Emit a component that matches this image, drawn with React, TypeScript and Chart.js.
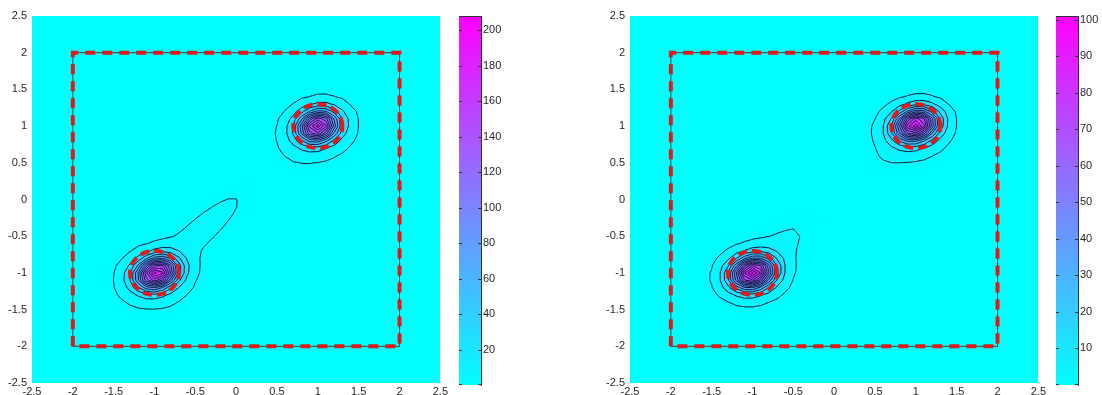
import React, { useEffect, useRef } from "react";
import { Chart, registerables } from "chart.js";
Chart.register(...registerables);

// ---------- shared data ----------
const axisTicks = [-2.5, -2, -1.5, -1, -0.5, 0, 0.5, 1, 1.5, 2, 2.5];
const squareX = [-2, -2, 2, 2, -2];
const squareY = [-2, 2, 2, -2, -2];
const circleX = [1, -1];
const circleY = [1, -1];
const circleR = [0.3, 0.3];
const gridMin = -2.5;
const gridMax = 2.5;
const gridStep = 0.1;

// ---------- left panel (density components) ----------
const leftCompX = [-0.97, -1.0, 1.0, 1.0, -0.45, 0.78];
const leftCompY = [-1.0, -1.08, 1.0, 0.95, -0.45, 0.72];
const leftCompAmp = [190, 10, 178, 10, 6, 3];
const leftCompSx = [0.17, 0.28, 0.16, 0.28, 0.55, 0.18];
const leftCompSy = [0.13, 0.25, 0.13, 0.25, 0.14, 0.18];
const leftCompAngle = [25, 0, 25, 0, 45, 0];
const leftLevels = [3, 15, 30, 45, 60, 75, 90, 105, 120, 135, 150, 165, 180, 195];
const leftColorMax = 208;
const leftColorTicks = [20, 40, 60, 80, 100, 120, 140, 160, 180, 200];

// ---------- right panel ----------
const rightCompX = [-1.0, -1.0, 1.0, 0.97, -0.7, 0.8];
const rightCompY = [-1.0, -1.02, 1.02, 0.95, -0.68, 0.75];
const rightCompAmp = [91, 8, 89, 8, 3, 2];
const rightCompSx = [0.17, 0.27, 0.17, 0.27, 0.4, 0.3];
const rightCompSy = [0.13, 0.24, 0.13, 0.24, 0.15, 0.15];
const rightCompAngle = [20, 0, 20, 0, 45, 45];
const rightLevels = [2, 8, 15, 22, 29, 36, 43, 50, 57, 64, 71, 78, 85, 92, 99];
const rightColorMax = 101;
const rightColorTicks = [10, 20, 30, 40, 50, 60, 70, 80, 90, 100];

const FONT = { family: "'Liberation Sans', Arial, sans-serif", size: 11 };
const TEXT = "#262626";

type Panel = {
  cx: number[]; cy: number[]; amp: number[]; sx: number[]; sy: number[]; ang: number[];
  levels: number[]; colorMax: number; colorTicks: number[];
};

function buildGrid(p: Panel): number[][] {
  const n = Math.round((gridMax - gridMin) / gridStep) + 1;
  const g: number[][] = [];
  for (let j = 0; j < n; j++) {
    const row: number[] = [];
    const y = gridMin + j * gridStep;
    for (let i = 0; i < n; i++) {
      const x = gridMin + i * gridStep;
      let v = 0;
      for (let k = 0; k < p.cx.length; k++) {
        const a = (p.ang[k] * Math.PI) / 180;
        const dx = x - p.cx[k], dy = y - p.cy[k];
        const u = dx * Math.cos(a) + dy * Math.sin(a);
        const w = -dx * Math.sin(a) + dy * Math.cos(a);
        v += p.amp[k] * Math.exp(-(u * u) / (2 * p.sx[k] * p.sx[k]) - (w * w) / (2 * p.sy[k] * p.sy[k]));
      }
      row.push(v);
    }
    g.push(row);
  }
  return g;
}

function coolColor(t: number): [number, number, number] {
  const c = Math.max(0, Math.min(1, t));
  return [Math.round(255 * c), Math.round(255 * (1 - c)), 255];
}

function heatPlugin(p: Panel, grid: number[][]) {
  const n = grid.length;
  return {
    id: "heat",
    beforeDatasetsDraw(chart: any) {
      const { ctx, chartArea: a, scales } = chart;
      const xs = scales.x, ys = scales.y;
      const w = Math.round(a.right - a.left), h = Math.round(a.bottom - a.top);
      const off = document.createElement("canvas");
      off.width = w; off.height = h;
      const octx = off.getContext("2d")!;
      const img = octx.createImageData(w, h);
      for (let py = 0; py < h; py++) {
        const yv = ys.getValueForPixel(a.top + py + 0.5);
        let fj = (yv - gridMin) / gridStep;
        fj = Math.max(0, Math.min(n - 1.0001, fj));
        const j0 = Math.floor(fj), tj = fj - j0;
        for (let px = 0; px < w; px++) {
          const xv = xs.getValueForPixel(a.left + px + 0.5);
          let fi = (xv - gridMin) / gridStep;
          fi = Math.max(0, Math.min(n - 1.0001, fi));
          const i0 = Math.floor(fi), ti = fi - i0;
          const v =
            grid[j0][i0] * (1 - ti) * (1 - tj) +
            grid[j0][i0 + 1] * ti * (1 - tj) +
            grid[j0 + 1][i0] * (1 - ti) * tj +
            grid[j0 + 1][i0 + 1] * ti * tj;
          const [r, g, b] = coolColor(v / p.colorMax);
          const idx = (py * w + px) * 4;
          img.data[idx] = r; img.data[idx + 1] = g; img.data[idx + 2] = b; img.data[idx + 3] = 255;
        }
      }
      octx.putImageData(img, 0, 0);
      ctx.drawImage(off, a.left, a.top);

      // contours (marching squares)
      ctx.save();
      ctx.beginPath();
      ctx.rect(a.left, a.top, a.right - a.left, a.bottom - a.top);
      ctx.clip();
      ctx.strokeStyle = "#0d1a3a";
      ctx.lineWidth = 1;
      for (const L of p.levels) {
        ctx.beginPath();
        for (let j = 0; j < n - 1; j++) {
          for (let i = 0; i < n - 1; i++) {
            const x0 = gridMin + i * gridStep, x1 = x0 + gridStep;
            const y0 = gridMin + j * gridStep, y1 = y0 + gridStep;
            const v0 = grid[j][i], v1 = grid[j][i + 1], v2 = grid[j + 1][i + 1], v3 = grid[j + 1][i];
            const pts: [number, number][] = [];
            const edge = (va: number, vb: number, xa: number, ya: number, xb: number, yb: number) => {
              if ((va >= L) !== (vb >= L)) {
                const t = (L - va) / (vb - va);
                pts.push([xa + (xb - xa) * t, ya + (yb - ya) * t]);
              }
            };
            edge(v0, v1, x0, y0, x1, y0);
            edge(v1, v2, x1, y0, x1, y1);
            edge(v3, v2, x0, y1, x1, y1);
            edge(v0, v3, x0, y0, x0, y1);
            const seg = (pa: [number, number], pb: [number, number]) => {
              ctx.moveTo(xs.getPixelForValue(pa[0]), ys.getPixelForValue(pa[1]));
              ctx.lineTo(xs.getPixelForValue(pb[0]), ys.getPixelForValue(pb[1]));
            };
            if (pts.length === 2) seg(pts[0], pts[1]);
            else if (pts.length === 4) {
              const c = (v0 + v1 + v2 + v3) / 4;
              if ((c >= L) === (v0 >= L)) { seg(pts[0], pts[1]); seg(pts[2], pts[3]); }
              else { seg(pts[0], pts[3]); seg(pts[1], pts[2]); }
            }
          }
        }
        ctx.stroke();
      }
      ctx.restore();
    },
  };
}

function barPlugin(p: Panel) {
  return {
    id: "bar",
    beforeDatasetsDraw(chart: any) {
      const { ctx, chartArea: a, scales } = chart;
      const ys = scales.y;
      const g = ctx.createLinearGradient(0, ys.getPixelForValue(0), 0, ys.getPixelForValue(p.colorMax));
      g.addColorStop(0, "rgb(0,255,255)");
      g.addColorStop(1, "rgb(255,0,255)");
      ctx.fillStyle = g;
      ctx.fillRect(a.left, a.top, a.right - a.left, a.bottom - a.top);
    },
    afterDraw(chart: any) {
      const { ctx, chartArea: a, scales } = chart;
      const ys = scales.y;
      ctx.save();
      ctx.strokeStyle = "#333";
      ctx.lineWidth = 1;
      ctx.beginPath();
      for (const v of p.colorTicks) {
        const py = Math.round(ys.getPixelForValue(v)) + 0.5;
        ctx.moveTo(a.left, py); ctx.lineTo(a.left + 3, py);
        ctx.moveTo(a.right - 3, py); ctx.lineTo(a.right, py);
      }
      ctx.moveTo(a.left, a.top + 0.5); ctx.lineTo(a.right, a.top + 0.5);
      ctx.moveTo(a.left, a.bottom - 0.5); ctx.lineTo(a.left + 3, a.bottom - 0.5);
      ctx.moveTo(a.right - 3, a.bottom - 0.5); ctx.lineTo(a.right, a.bottom - 0.5);
      ctx.stroke();
      ctx.restore();
    },
  };
}

function circlePoints(k: number) {
  const pts: { x: number; y: number }[] = [];
  for (let s = 0; s <= 72; s++) {
    const t = (s / 72) * 2 * Math.PI;
    pts.push({ x: circleX[k] + circleR[k] * Math.cos(t), y: circleY[k] + circleR[k] * Math.sin(t) });
  }
  return pts;
}

function MainPlot({ panel, left, padRight }: { panel: Panel; left: number; padRight: number }) {
  const ref = useRef<HTMLCanvasElement>(null);
  useEffect(() => {
    const grid = buildGrid(panel);
    const sq = squareX.map((x, i) => ({ x, y: squareY[i] }));
    const line = (data: any, color: string, width: number, dash: number[], order: number) => ({
      data, showLine: true, borderColor: color, borderWidth: width, borderDash: dash,
      pointRadius: 0, tension: 0, fill: false, order,
    });
    const chart = new Chart(ref.current!, {
      type: "scatter",
      data: {
        datasets: [
          line(sq, "#3a3a3a", 1, [], 4),
          line(sq, "#e31818", 4, [10, 7], 1),
          line(circlePoints(0), "#e31818", 4, [9, 5], 2),
          line(circlePoints(1), "#e31818", 4, [9, 5], 2),
        ] as any,
      },
      options: {
        animation: false,
        responsive: false,
        devicePixelRatio: 1,
        events: [],
        layout: { padding: { top: 16, right: padRight, left: 0, bottom: 0 } },
        plugins: { legend: { display: false }, tooltip: { enabled: false } },
        scales: {
          x: {
            type: "linear", min: -2.5, max: 2.5,
            afterBuildTicks: (s: any) => { s.ticks = axisTicks.map((v) => ({ value: v })); },
            afterFit: (s: any) => { s.height = 12; },
            ticks: { autoSkip: false, maxRotation: 0, padding: 2, font: FONT, color: TEXT, callback: (v: any) => String(v) },
            grid: { display: false, drawTicks: false },
            border: { display: false },
          },
          y: {
            type: "linear", min: -2.5, max: 2.5,
            afterBuildTicks: (s: any) => { s.ticks = axisTicks.map((v) => ({ value: v })); },
            afterFit: (s: any) => { s.width = 32; },
            ticks: { autoSkip: false, padding: 5, font: FONT, color: TEXT, callback: (v: any) => String(v) },
            grid: { display: false, drawTicks: false },
            border: { display: false },
          },
        },
      } as any,
      plugins: [heatPlugin(panel, grid)],
    });
    return () => chart.destroy();
  }, []);
  return <canvas ref={ref} width={450} height={395} style={{ position: "absolute", left, top: 0, width: 450, height: 395 }} />;
}

function ColorBar({ panel, left, width }: { panel: Panel; left: number; width: number }) {
  const ref = useRef<HTMLCanvasElement>(null);
  useEffect(() => {
    const chart = new Chart(ref.current!, {
      type: "scatter",
      data: { datasets: [] },
      options: {
        animation: false,
        responsive: false,
        devicePixelRatio: 1,
        events: [],
        layout: { padding: { top: 16, bottom: 10, left: 0, right: 0 } },
        plugins: { legend: { display: false }, tooltip: { enabled: false } },
        scales: {
          x: { type: "linear", display: false, min: 0, max: 1 },
          y: {
            type: "linear", position: "right", min: 0, max: panel.colorMax,
            afterBuildTicks: (s: any) => { s.ticks = panel.colorTicks.map((v) => ({ value: v })); },
            afterFit: (s: any) => { s.width = width - 22; },
            ticks: { autoSkip: false, padding: 2, font: FONT, color: TEXT, callback: (v: any) => String(v) },
            grid: { drawOnChartArea: false, drawTicks: false },
            border: { display: true, color: "#333", width: 1 },
          },
        },
      } as any,
      plugins: [barPlugin(panel)],
    });
    return () => chart.destroy();
  }, []);
  return <canvas ref={ref} width={width} height={395} style={{ position: "absolute", left, top: 0, width, height: 395 }} />;
}

const leftPanel: Panel = {
  cx: leftCompX, cy: leftCompY, amp: leftCompAmp, sx: leftCompSx, sy: leftCompSy, ang: leftCompAngle,
  levels: leftLevels, colorMax: leftColorMax, colorTicks: leftColorTicks,
};
const rightPanel: Panel = {
  cx: rightCompX, cy: rightCompY, amp: rightCompAmp, sx: rightCompSx, sy: rightCompSy, ang: rightCompAngle,
  levels: rightLevels, colorMax: rightColorMax, colorTicks: rightColorTicks,
};

export default function App() {
  return (
    <div style={{ position: "fixed", left: 0, top: 0, width: 1102, height: 395, background: "#fff", overflow: "hidden" }}>
      <MainPlot panel={leftPanel} left={0} padRight={8} />
      <ColorBar panel={leftPanel} left={459} width={60} />
      <MainPlot panel={rightPanel} left={598} padRight={9} />
      <ColorBar panel={rightPanel} left={1056} width={46} />
    </div>
  );
}
